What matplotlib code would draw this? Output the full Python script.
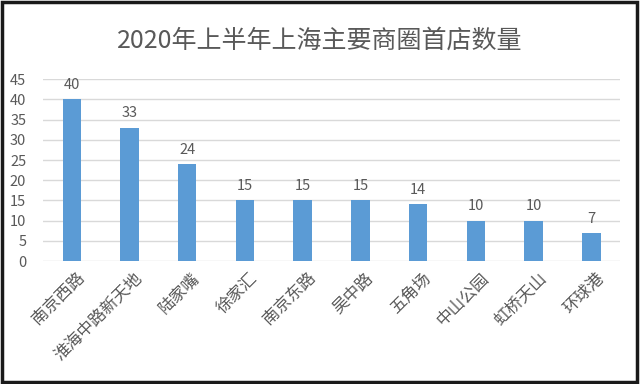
import matplotlib.pyplot as plt
from matplotlib.patches import Rectangle
from matplotlib.transforms import ScaledTranslation

plt.rcParams['font.family'] = ['Noto Sans CJK SC', 'DejaVu Sans']

areas = ["南京西路", "淮海中路新天地", "陆家嘴", "徐家汇", "南京东路",
         "吴中路", "五角场", "中山公园", "虹桥天山", "环球港"]
counts = [40, 33, 24, 15, 15, 15, 14, 10, 10, 7]
yticks = [0, 5, 10, 15, 20, 25, 30, 35, 40, 45]

text_color = "#595959"
bar_color = "#5B9BD5"
grid_color = "#D9D9D9"

fig = plt.figure(figsize=(6.4, 3.84), dpi=100)
ax = fig.add_axes([0.067, 0.32, 0.902, 0.474])

x = list(range(len(areas)))
bars = ax.bar(x, counts, width=0.32, color=bar_color, zorder=3)
for xi, v in zip(x, counts):
    ax.text(xi, v + 1.8, str(v), ha="center", va="bottom",
            fontsize=10.5, color=text_color)

ax.set_xlim(-0.5, len(areas) - 0.5)
ax.set_ylim(0, 45)
ax.set_yticks(yticks)
ax.set_yticklabels([str(t) for t in yticks], fontsize=10.5, color=text_color)
ax.yaxis.grid(True, color=grid_color, linewidth=1, zorder=0)
ax.tick_params(axis="y", length=0, pad=12)
ax.tick_params(axis="x", length=0, pad=6)
ax.set_xticks(x)
ax.set_xticklabels(areas, rotation=45, ha="right", rotation_mode="anchor",
                   fontsize=12, color=text_color)
shift = ScaledTranslation(4 / 100, 0, fig.dpi_scale_trans)
for lbl in ax.get_xticklabels():
    lbl.set_transform(lbl.get_transform() + shift)
for s in ax.spines.values():
    s.set_visible(False)

fig.text(0.5, 0.895, "2020年上半年上海主要商圈首店数量", ha="center", va="center",
         fontsize=18, color=text_color)

fig.patches.append(Rectangle((0.003, 0.006), 0.993, 0.99, transform=fig.transFigure,
                             fill=False, edgecolor="#1a1a1a", linewidth=2.5))

fig.savefig("out.png", dpi=100)
